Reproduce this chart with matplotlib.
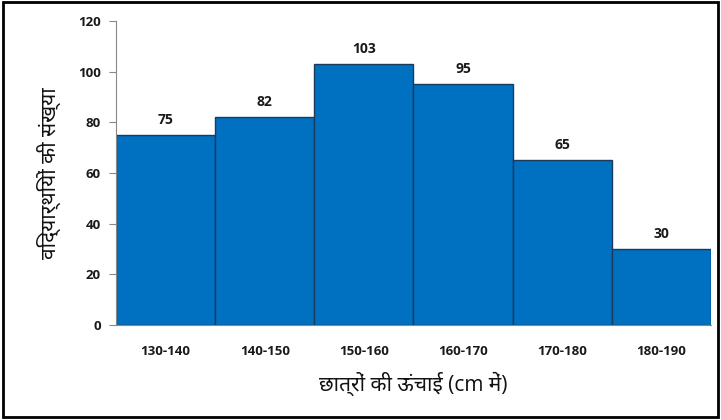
import matplotlib.pyplot as plt
from matplotlib.patches import Rectangle

# data
groups = ["130-140", "140-150", "150-160", "160-170", "170-180", "180-190"]
students = [75, 82, 103, 95, 65, 30]

plt.rcParams['font.family'] = ['Open Sans', 'Noto Sans', 'DejaVu Sans']

fig = plt.figure(figsize=(7.21, 4.2), dpi=100)
ax = fig.add_axes([0.161, 0.226, 0.825, 0.724])

bars = ax.bar(range(len(groups)), students, width=1.0, align='center',
              color='#0070C0', edgecolor='#1b3a5c', linewidth=1)
ax.bar_label(bars, labels=[str(v) for v in students], padding=6,
             fontsize=10, fontweight='bold', color='#1a1a1a')

ax.set_xlim(-0.5, len(groups) - 0.5)
ax.set_ylim(0, 120)
ax.set_yticks(range(0, 121, 20))
ax.set_xticks(range(len(groups)))
ax.set_xticklabels(groups)
ax.tick_params(axis='x', length=0, pad=14, labelsize=9.5, labelcolor='#1a1a1a')
ax.tick_params(axis='y', length=5, pad=6, labelsize=9.5, labelcolor='#1a1a1a',
               color='#888888')
for lbl in ax.get_xticklabels() + ax.get_yticklabels():
    lbl.set_fontweight('bold')

for s in ['top', 'right']:
    ax.spines[s].set_visible(False)
ax.spines['left'].set_color('#888888')
ax.spines['bottom'].set_color('#888888')

ax.set_xlabel('छात्रों की ऊंचाई (cm में)', fontsize=15, labelpad=10, color='#111111')
ax.set_ylabel('विद्यार्थियों की संख्या', fontsize=15, labelpad=12, color='#111111')

fig.patches.append(Rectangle((0.004, 0.007), 0.992, 0.988, transform=fig.transFigure,
                             fill=False, edgecolor='black', linewidth=2))

fig.savefig('out.png', dpi=100)
